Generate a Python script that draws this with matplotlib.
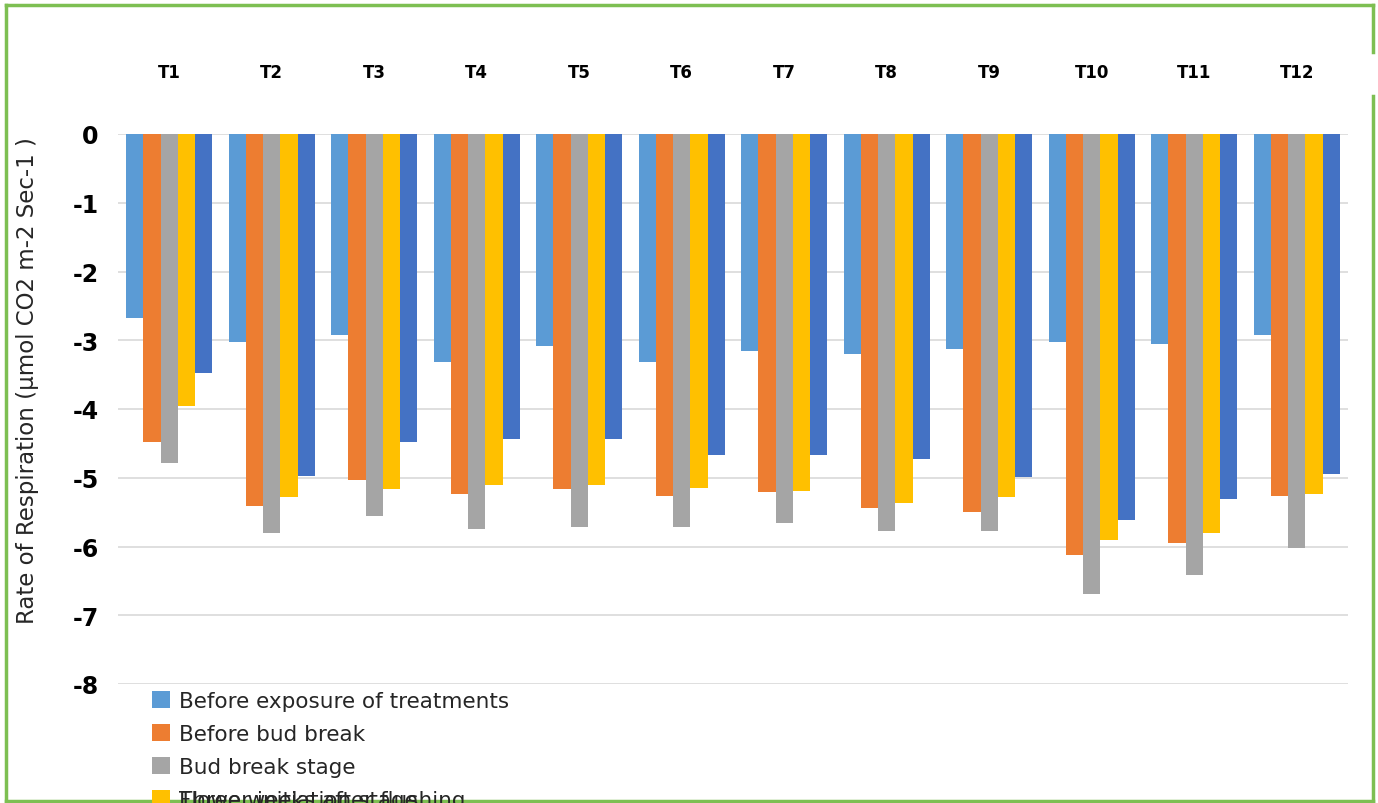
import numpy as np
import matplotlib
matplotlib.use("Agg")
import matplotlib.pyplot as plt
from matplotlib.lines import Line2D

plt.rcParams["axes.unicode_minus"] = False
plt.rcParams["font.family"] = "DejaVu Sans"

# treatments and growth stages
treatments = ["T1", "T2", "T3", "T4", "T5", "T6", "T7", "T8", "T9", "T10", "T11", "T12"]
stages = [
    "Before exposure of treatments",
    "Before bud break",
    "Bud break stage",
    "Flower initiation stage",
    "Three weeks after flushing",
]

# respiration rate (µmol CO2 m-2 s-1) per stage
before_exposure = [-2.67, -3.03, -2.92, -3.31, -3.09, -3.32, -3.16, -3.20, -3.13, -3.02, -3.06, -2.93]
before_bud_break = [-4.48, -5.41, -5.03, -5.23, -5.16, -5.26, -5.21, -5.44, -5.50, -6.12, -5.95, -5.26]
bud_break = [-4.79, -5.81, -5.55, -5.74, -5.72, -5.72, -5.66, -5.78, -5.78, -6.69, -6.41, -6.02]
flower_init = [-3.95, -5.28, -5.16, -5.10, -5.10, -5.15, -5.19, -5.37, -5.28, -5.90, -5.81, -5.23]
three_weeks = [-3.48, -4.97, -4.48, -4.43, -4.43, -4.67, -4.67, -4.73, -4.99, -5.62, -5.31, -4.94]

series = [before_exposure, before_bud_break, bud_break, flower_init, three_weeks]
colors = ["#5B9BD5", "#ED7D31", "#A5A5A5", "#FFC000", "#4472C4"]

W, H = 1378, 804
fig = plt.figure(figsize=(W / 100, H / 100), dpi=100)

def fx(px):
    return px / W

def fy(py):
    return 1 - py / H

ax = fig.add_axes([fx(118), fy(685), fx(1348) - fx(118), fy(135) - fy(685)])

x = np.arange(len(treatments))
bw = 0.168
bars = []
for i, (vals, c) in enumerate(zip(series, colors)):
    b = ax.bar(x + (i - 2) * bw, vals, width=bw, color=c, zorder=3, label=stages[i])
    bars.append(b)

ax.set_xlim(-0.5, len(treatments) - 0.5)
ax.set_ylim(-8, 0)
ax.set_yticks(np.arange(-8, 1, 1))
ax.yaxis.grid(True, color="#D9D9D9", linewidth=1.2, zorder=0)
ax.set_axisbelow(True)
for s in ax.spines.values():
    s.set_visible(False)

ax.xaxis.tick_top()
ax.set_xticks(x)
ax.set_xticklabels(treatments, fontsize=12, fontweight="bold")
ax.tick_params(axis="x", length=0, pad=38)
ax.tick_params(axis="y", length=0, pad=14)
for lbl in ax.get_yticklabels():
    lbl.set_fontsize(17)
    lbl.set_fontweight("bold")

fig.text(fx(28), fy(381), "Rate of Respiration (µmol CO2 m-2 Sec-1 )",
         rotation=90, ha="center", va="center", fontsize=16.5, color="#262626")

# legend: last two entries end up on top of each other
leg_kw = dict(frameon=False, handlelength=0.84, handleheight=0.8,
              handletextpad=0.42, labelspacing=0.6, borderpad=0, borderaxespad=0,
              loc="upper left", prop={"size": 15.5})
leg2 = fig.legend([bars[4]], [stages[4]], bbox_to_anchor=(fx(152), fy(791)), **leg_kw)
leg1 = fig.legend(bars[:4], stages[:4], bbox_to_anchor=(fx(152), fy(692)), **leg_kw)
for lg in (leg1, leg2):
    for t in lg.get_texts():
        t.set_color("#262626")
leg2.set_zorder(4)
leg1.set_zorder(5)

# green frame, with a break on the right side
green = "#7DBF52"
for xs, ys in [((6, 6), (6, 804)), ((6, 1373), (6, 6)), ((1373, 1373), (6, 53)),
               ((1373, 1373), (97, 804)), ((6, 1373), (802, 802))]:
    fig.add_artist(Line2D([fx(v) for v in xs], [fy(v) for v in ys], color=green,
                          linewidth=2.5, transform=fig.transFigure))

fig.savefig("out.png", dpi=100)
